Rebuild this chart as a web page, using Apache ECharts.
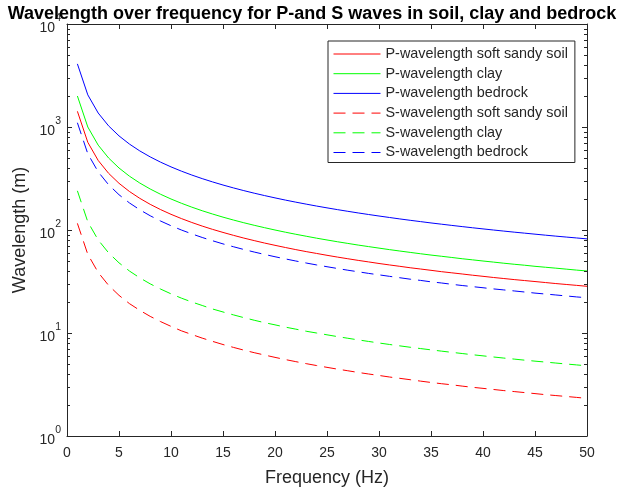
<!DOCTYPE html>
<html>
<head>
<meta charset="utf-8">
<script src="https://cdn.jsdelivr.net/npm/echarts@6/dist/echarts.min.js"></script>
<style>
html,body{margin:0;padding:0;background:#fff;}
#chart{width:621px;height:494px;}
</style>
</head>
<body>
<div id="chart"></div>
<script>
var frequency = [1,2,3,4,5,6,7,8,9,10,11,12,13,14,15,16,17,18,19,20,21,22,23,24,25,26,27,28,29,30,31,32,33,34,35,36,37,38,39,40,41,42,43,44,45,46,47,48,49,50];

var pSoil = [1420,710,473.3,355,284,236.7,202.9,177.5,157.8,142,129.1,118.3,109.2,101.4,94.7,88.8,83.5,78.9,74.7,71,67.6,64.5,61.7,59.2,56.8,54.6,52.6,50.7,49.0,47.3,45.8,44.4,43.0,41.8,40.6,39.4,38.4,37.4,36.4,35.5,34.6,33.8,33.0,32.3,31.6,30.9,30.2,29.6,29.0,28.4];
var pClay = [2000,1000,666.7,500,400,333.3,285.7,250,222.2,200,181.8,166.7,153.8,142.9,133.3,125,117.6,111.1,105.3,100,95.2,90.9,87.0,83.3,80,76.9,74.1,71.4,69.0,66.7,64.5,62.5,60.6,58.8,57.1,55.6,54.1,52.6,51.3,50,48.8,47.6,46.5,45.5,44.4,43.5,42.6,41.7,40.8,40];
var pRock = [4100,2050,1366.7,1025,820,683.3,585.7,512.5,455.6,410,372.7,341.7,315.4,292.9,273.3,256.3,241.2,227.8,215.8,205,195.2,186.4,178.3,170.8,164,157.7,151.9,146.4,141.4,136.7,132.3,128.1,124.2,120.6,117.1,113.9,110.8,107.9,105.1,102.5,100,97.6,95.3,93.2,91.1,89.1,87.2,85.4,83.7,82];
var sSoil = [116,58,38.7,29,23.2,19.3,16.6,14.5,12.9,11.6,10.5,9.67,8.92,8.29,7.73,7.25,6.82,6.44,6.11,5.8,5.52,5.27,5.04,4.83,4.64,4.46,4.30,4.14,4.0,3.87,3.74,3.63,3.52,3.41,3.31,3.22,3.14,3.05,2.97,2.9,2.83,2.76,2.70,2.64,2.58,2.52,2.47,2.42,2.37,2.32];
var sClay = [240,120,80,60,48,40,34.3,30,26.7,24,21.8,20,18.5,17.1,16,15,14.1,13.3,12.6,12,11.4,10.9,10.4,10,9.6,9.23,8.89,8.57,8.28,8,7.74,7.5,7.27,7.06,6.86,6.67,6.49,6.32,6.15,6,5.85,5.71,5.58,5.45,5.33,5.22,5.11,5,4.9,4.8];
var sRock = [1100,550,366.7,275,220,183.3,157.1,137.5,122.2,110,100,91.7,84.6,78.6,73.3,68.8,64.7,61.1,57.9,55,52.4,50,47.8,45.8,44,42.3,40.7,39.3,37.9,36.7,35.5,34.4,33.3,32.4,31.4,30.6,29.7,28.9,28.2,27.5,26.8,26.2,25.6,25,24.4,23.9,23.4,22.9,22.4,22];

var seriesNames = ['P-wavelength soft sandy soil','P-wavelength clay','P-wavelength bedrock','S-wavelength soft sandy soil','S-wavelength clay','S-wavelength bedrock'];
var yMinorTicks = [2,3,4,5,6,7,8,9,20,30,40,50,60,70,80,90,200,300,400,500,600,700,800,900,2000,3000,4000,5000,6000,7000,8000,9000];

var FONT = '"Liberation Sans", Arial, Helvetica, sans-serif';
var chart = echarts.init(document.getElementById('chart'), null, {renderer: 'canvas'});

function pair(arr){ return frequency.map(function(f,i){ return [f, arr[i]]; }); }
function lineSeries(name, arr, color, dashed){
  return {
    name: name, type: 'line', data: pair(arr), showSymbol: false, symbol: 'none',
    lineStyle: {color: color, width: 1, type: dashed ? [12,7] : 'solid'},
    itemStyle: {color: color}, animation: false, z: 3
  };
}

var option = {
  backgroundColor: '#ffffff',
  animation: false,
  title: {
    text: 'Wavelength over frequency for P-and S waves in soil, clay and bedrock',
    left: 307, top: 0, textAlign: 'center',
    textStyle: {fontFamily: FONT, fontWeight: 'bold', fontSize: 18, color: '#000'}
  },
  grid: {left: 67, right: 34, top: 24, bottom: 58, show: false},
  legend: {
    orient: 'vertical', left: 328, top: 41,
    data: seriesNames,
    itemWidth: 47, itemHeight: 14, itemGap: 5.7,
    padding: [6, 7, 3, 5],
    borderColor: '#262626', borderWidth: 1, backgroundColor: '#fff',
    itemStyle: {opacity: 0},
    lineStyle: {width: 1},
    textStyle: {fontFamily: FONT, fontSize: 14.4, color: '#262626'}
  },
  xAxis: [{
    type: 'value', min: 0, max: 50, interval: 5, position: 'bottom',
    name: 'Frequency (Hz)', nameLocation: 'middle', nameGap: 33,
    nameTextStyle: {fontFamily: FONT, fontSize: 18, color: '#262626'},
    axisLine: {onZero: false, lineStyle: {color: '#262626', width: 1}},
    axisTick: {inside: true, length: 5, lineStyle: {color: '#262626'}},
    axisLabel: {fontFamily: FONT, fontSize: 14, color: '#262626', margin: 10},
    splitLine: {show: false}
  },{
    type: 'value', min: 0, max: 50, interval: 5, position: 'top',
    axisLine: {onZero: false, lineStyle: {color: '#262626', width: 1}},
    axisTick: {inside: true, length: 5, lineStyle: {color: '#262626'}},
    axisLabel: {show: false}, splitLine: {show: false}
  }],
  yAxis: [{
    type: 'log', logBase: 10, min: 1, max: 10000, interval: 1, position: 'left',
    name: 'Wavelength (m)', nameLocation: 'middle', nameGap: 38,
    nameTextStyle: {fontFamily: FONT, fontSize: 18, color: '#262626'},
    axisLine: {onZero: false, lineStyle: {color: '#262626', width: 1}},
    axisTick: {inside: true, length: 5, lineStyle: {color: '#262626'}},
    axisLabel: {
      color: '#262626', margin: 6,
      formatter: function(v){ var e = Math.round(Math.log10(v)); return '{b|10}{s|' + e + '}'; },
      rich: {
        b: {fontFamily: FONT, fontSize: 14, color: '#262626', lineHeight: 22, verticalAlign: 'bottom'},
        s: {fontFamily: FONT, fontSize: 10.5, color: '#262626', lineHeight: 10, verticalAlign: 'top'}
      }
    },
    splitLine: {show: false}
  },{
    type: 'log', logBase: 10, min: 1, max: 10000, interval: 1, position: 'right',
    axisLine: {onZero: false, lineStyle: {color: '#262626', width: 1}},
    axisTick: {inside: true, length: 5, lineStyle: {color: '#262626'}},
    axisLabel: {show: false}, splitLine: {show: false}
  }],
  series: [
    lineSeries(seriesNames[0], pSoil, '#ff0000', false),
    lineSeries(seriesNames[1], pClay, '#00ff00', false),
    lineSeries(seriesNames[2], pRock, '#0000ff', false),
    lineSeries(seriesNames[3], sSoil, '#ff0000', true),
    lineSeries(seriesNames[4], sClay, '#00ff00', true),
    lineSeries(seriesNames[5], sRock, '#0000ff', true),
    {
      type: 'custom', name: 'minorTicks', silent: true, z: 4,
      data: yMinorTicks.map(function(v){ return [0, v]; }),
      renderItem: function(params, api){
        var v = api.value(1);
        var pl = api.coord([0, v]);
        var pr = api.coord([50, v]);
        var st = {stroke: '#262626', lineWidth: 1};
        return {type: 'group', children: [
          {type: 'line', shape: {x1: pl[0], y1: Math.round(pl[1])+0.5, x2: pl[0]+3, y2: Math.round(pl[1])+0.5}, style: st},
          {type: 'line', shape: {x1: pr[0]-3, y1: Math.round(pr[1])+0.5, x2: pr[0], y2: Math.round(pr[1])+0.5}, style: st}
        ]};
      }
    }
  ]
};
chart.setOption(option);
</script>
</body>
</html>
